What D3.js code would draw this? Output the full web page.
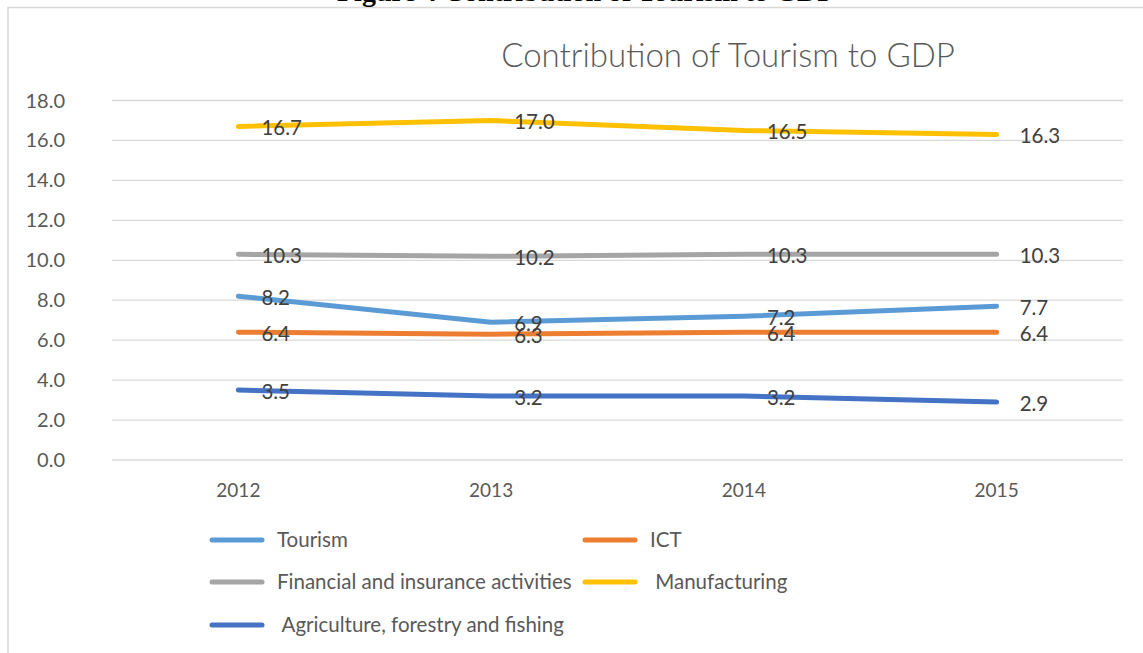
<!DOCTYPE html>
<html>
<head>
<meta charset="utf-8">
<script src="https://cdn.jsdelivr.net/npm/d3@7"></script>
<style>
  body { margin: 0; background: #fff; }
  svg { display: block; }
</style>
</head>
<body>
<svg id="chart" width="1143" height="653"></svg>
<script>
const years = ["2012", "2013", "2014", "2015"];
const tourism = [8.2, 6.9, 7.2, 7.7];
const ict = [6.4, 6.3, 6.4, 6.4];
const financial = [10.3, 10.2, 10.3, 10.3];
const manufacturing = [16.7, 17.0, 16.5, 16.3];
const agriculture = [3.5, 3.2, 3.2, 2.9];
const yTicks = [0, 2, 4, 6, 8, 10, 12, 14, 16, 18];

const series = [
  { name: "Tourism", values: tourism, color: "#5B9BD5" },
  { name: "ICT", values: ict, color: "#ED7D31" },
  { name: "Financial and insurance activities", values: financial, color: "#A5A5A5" },
  { name: " Manufacturing", values: manufacturing, color: "#FFC000" },
  { name: " Agriculture, forestry and fishing", values: agriculture, color: "#4472C4" }
];

const font = "Lato, 'Open Sans', sans-serif";
const svg = d3.select("#chart");

// outer frame (cut off at right and bottom)
svg.append("path")
  .attr("d", "M8,660 L8,7.5 L1150,7.5")
  .attr("fill", "none")
  .attr("stroke", "#d9d9d9")
  .attr("stroke-width", 1.5);

// caption above chart, mostly cropped by the page edge
svg.append("text")
  .attr("x", 337)
  .attr("y", 0.5)
  .attr("font-family", "'Liberation Serif', serif")
  .attr("font-weight", "bold")
  .attr("font-size", "28px")
  .attr("fill", "#000")
  .text("Figure 4 Contribution of Tourism to GDP");

const x = d3.scaleBand().domain(years).range([112, 1123]);
const y = d3.scaleLinear().domain([0, 18]).range([460, 100.5]);

// gridlines
svg.append("g")
  .selectAll("line")
  .data(yTicks)
  .join("line")
  .attr("x1", 112)
  .attr("x2", 1123)
  .attr("y1", (d) => y(d))
  .attr("y2", (d) => y(d))
  .attr("stroke", "#d9d9d9")
  .attr("stroke-width", 1.3);

// y labels
svg.append("g")
  .selectAll("text")
  .data(yTicks)
  .join("text")
  .attr("x", 65)
  .attr("y", (d) => y(d))
  .attr("dy", "0.35em")
  .attr("text-anchor", "end")
  .attr("font-family", font)
  .attr("font-size", "20px")
  .attr("fill", "#595959")
  .text((d) => d3.format(".1f")(d));

// x labels
svg.append("g")
  .selectAll("text")
  .data(years)
  .join("text")
  .attr("x", (d) => x(d) + x.bandwidth() / 2)
  .attr("y", 497)
  .attr("text-anchor", "middle")
  .attr("font-family", font)
  .attr("font-size", "19px")
  .attr("fill", "#595959")
  .text((d) => d);

// title
svg.append("text")
  .attr("x", 728)
  .attr("y", 67)
  .attr("text-anchor", "middle")
  .attr("font-family", font)
  .attr("font-weight", 300)
  .attr("font-size", "33px")
  .attr("fill", "#595959")
  .text("Contribution of Tourism to GDP");

const line = d3
  .line()
  .x((d, i) => x(years[i]) + x.bandwidth() / 2)
  .y((d) => y(d));

series.forEach((s) => {
  svg.append("path")
    .datum(s.values)
    .attr("fill", "none")
    .attr("stroke", s.color)
    .attr("stroke-width", 5)
    .attr("stroke-linecap", "round")
    .attr("stroke-linejoin", "round")
    .attr("d", line);
});

// data labels (right of points)
series.forEach((s) => {
  svg.append("g")
    .selectAll("text")
    .data(s.values)
    .join("text")
    .attr("x", (d, i) => x(years[i]) + x.bandwidth() / 2 + 23)
    .attr("y", (d) => y(d))
    .attr("dy", "0.42em")
    .attr("font-family", font)
    .attr("font-size", "20.5px")
    .attr("fill", "#404040")
    .text((d) => d3.format(".1f")(d));
});

// legend
const legendPos = [
  [210, 540], [583, 540],
  [210, 582], [583, 582],
  [210, 625]
];
series.forEach((s, i) => {
  const [lx, ly] = legendPos[i];
  svg.append("line")
    .attr("x1", lx + 2)
    .attr("x2", lx + 52)
    .attr("y1", ly)
    .attr("y2", ly)
    .attr("stroke", s.color)
    .attr("stroke-width", 5)
    .attr("stroke-linecap", "round");
  svg.append("text")
    .attr("x", lx + 67)
    .attr("y", ly)
    .attr("dy", "0.35em")
    .attr("font-family", font)
    .attr("font-size", "20.5px")
    .attr("fill", "#595959")
    .style("white-space", "pre")
    .text(s.name);
});
</script>
</body>
</html>
